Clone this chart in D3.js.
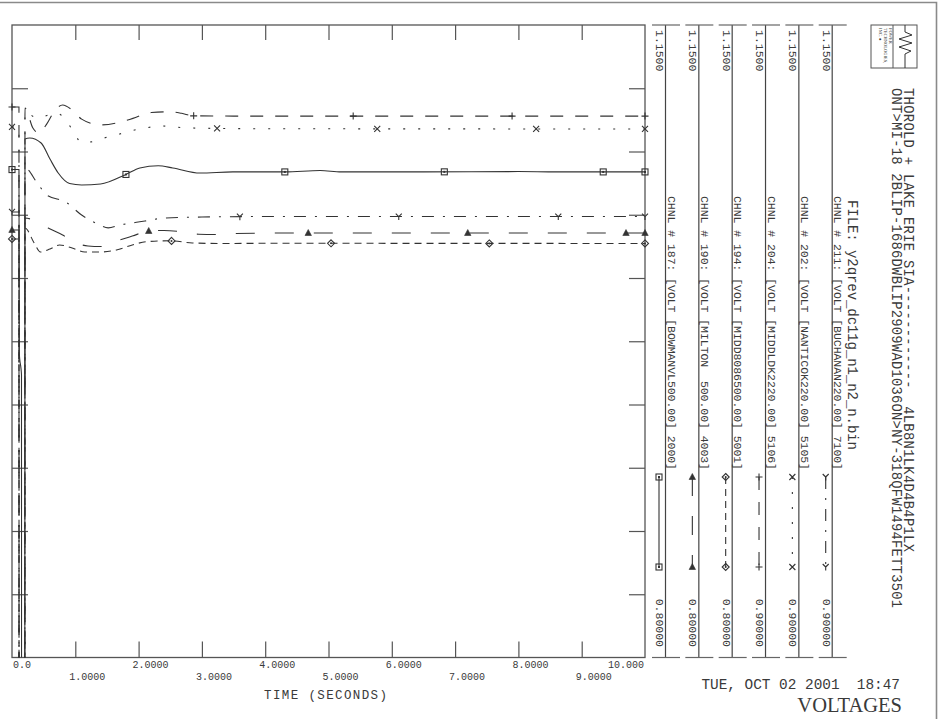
<!DOCTYPE html>
<html><head><meta charset="utf-8">
<script src="https://cdn.jsdelivr.net/npm/d3@7"></script>
<style>
html,body{margin:0;padding:0;background:#fff;}
svg{display:block;}
text{font-family:"Liberation Mono","DejaVu Sans Mono",monospace;fill:#3a3a3a;}
</style></head><body>
<svg id="chart" width="940" height="719"></svg>
<script>
// ---------------- DATA ----------------
const timeTicks  = [0,1,2,3,4,5,6,7,8,9,10];
const timeLabels = ["0.0","1.0000","2.0000","3.0000","4.0000","5.0000","6.0000","7.0000","8.0000","9.0000","10.000"];
const channelIds = [187,190,194,204,202,211];
const channelLabels = [
  "CHNL # 187: [VOLT [BOWMANVL500.00] 2000]",
  "CHNL # 190: [VOLT [MILTON  500.00] 4003]",
  "CHNL # 194: [VOLT [MIDD8086500.00] 5001]",
  "CHNL # 204: [VOLT [MIDDLDK2220.00] 5106]",
  "CHNL # 202: [VOLT [NANTICOK220.00] 5105]",
  "CHNL # 211: [VOLT [BUCHANAN220.00] 7100]"
];
const scaleMax = [1.15,1.15,1.15,1.15,1.15,1.15];
const scaleMin = [0.80,0.80,0.80,0.90,0.90,0.90];
const scaleMaxLabels = ["1.1500","1.1500","1.1500","1.1500","1.1500","1.1500"];
const scaleMinLabels = ["0.80000","0.80000","0.80000","0.90000","0.90000","0.90000"];
const titleLines = [
  "THOROLD + LAKE ERIE SIA------------  4LB8N1LK4D4B4P1LX",
  "ONT>MI-18 2BLIP-1686DWBLIP2909WAD1036ON>NY-318QFW1494FETT3501"
];
const fileLabel = "FILE: y2qrev_dc11g_n1_n2_n.bin";
const dateLabel = "TUE, OCT 02 2001  18:47";
const plotTitle = "VOLTAGES";
const xTitle = "TIME (SECONDS)";

// channel 187 BOWMANVL (solid, square)
const t187 = [0,0.11,0.115,0.15,0.152,0.2,0.205,0.28,0.46,0.6,0.73,0.91,1.1,1.4,1.8,2.02,2.31,2.54,2.97,3.49,4.31,4.87,5.2,6.5,8.0,8.6,10];
const v187 = [1.0700,1.0700,0.9685,0.9563,0.5,0.5,1.0869,1.0875,1.0847,1.0758,1.0681,1.0623,1.0615,1.0620,1.0673,1.0709,1.0721,1.0709,1.0681,1.0687,1.0687,1.0695,1.0687,1.0687,1.0689,1.0687,1.0687];
// channel 190 MILTON (long dash, triangle)
const t190 = [0,0.11,0.112,0.2,0.205,0.4,0.57,0.8,0.95,1.2,1.4,1.7,1.9,2.16,2.4,2.65,2.95,3.2,3.5,4.5,10];
const v190 = [1.0366,1.0366,0.5,0.5,1.0432,1.0410,1.0377,1.0338,1.0305,1.0277,1.0274,1.0310,1.0332,1.0360,1.0363,1.0357,1.0342,1.0341,1.0346,1.0349,1.0349];
// channel 194 MIDD8086 (short dash, diamond)
const t194 = [0,0.11,0.112,0.2,0.205,0.35,0.45,0.6,0.75,0.95,1.15,1.4,1.65,1.9,2.15,2.5,2.85,3.3,4.0,10];
const v194 = [1.0316,1.0316,0.5,0.5,1.0377,1.0294,1.0244,1.0260,1.0283,1.0266,1.0244,1.0244,1.0255,1.0283,1.0302,1.0306,1.0294,1.0291,1.0292,1.0291];
// channel 204 MIDDLDK2 (dash, plus)
const t204 = [0,0.11,0.112,0.2,0.205,0.33,0.42,0.55,0.66,0.8,0.95,1.1,1.4,1.74,1.91,2.2,2.5,2.68,2.86,3.5,10];
const v204 = [1.1176,1.1176,0.5,0.5,1.1172,1.1093,1.1073,1.1109,1.1156,1.1184,1.1164,1.1128,1.1105,1.1118,1.1131,1.1154,1.1157,1.1151,1.1141,1.1140,1.1140];
// channel 202 NANTICOK (dotted, cross)
const t202 = [0,0.11,0.112,0.2,0.205,0.4,0.7,0.85,1.0,1.1,1.25,1.45,1.7,1.9,2.15,2.35,2.6,3.0,4.0,10];
const v202 = [1.1097,1.1097,0.5,0.5,1.1156,1.1132,1.1152,1.1125,1.1065,1.1034,1.1038,1.1053,1.1069,1.1083,1.1095,1.1101,1.1096,1.1092,1.1090,1.1089];
// channel 211 BUCHANAN (dash-dot, Y)
const t211 = [0,0.11,0.112,0.2,0.205,0.4,0.55,0.85,1.1,1.35,1.52,1.7,2.1,2.4,3.0,4.0,10];
const v211 = [1.0761,1.0761,0.5,0.5,1.0935,1.0875,1.0828,1.0800,1.0749,1.0714,1.0698,1.0709,1.0725,1.0737,1.0741,1.0743,1.0743];

// marker times along each curve
const m187 = [0,1.80,4.31,6.83,9.34,10];
const m190 = [0,2.16,4.68,7.20,9.70,10];
const m194 = [0,2.52,5.04,7.54,10];
const m204 = [0,2.87,5.39,7.90,10];
const m202 = [0,3.24,5.77,8.28,10];
const m211 = [0,3.60,6.11,8.63,10];

const seriesT = [t187,t190,t194,t204,t202,t211];
const seriesV = [v187,v190,v194,v204,v202,v211];
const markT   = [m187,m190,m194,m204,m202,m211];

// ---------------- STYLE ----------------
const dashStyles = ["none","19,20","7,5","13,12","2,13","12,9,2,9"];
const markerTypes = ["square","triangle","diamond","plus","cross","ylike"];
const INK = "#333";

// ---------------- DRAW ----------------
const svg = d3.select("#chart");
const L=12, R=645, T=25, B=657.5;
const x = d3.scaleLinear().domain([0,10]).range([L,R]);
const frameY = d3.scaleLinear().domain([0,10]).range([B,T]);
const strip = d3.scalePoint().domain(channelIds).range([665.5,832.2]);
const yScales = channelIds.map((c,i)=>d3.scaleLinear().domain([scaleMin[i],scaleMax[i]]).range([B,T]));

// outer border (top and right)
svg.append("path").attr("d","M0,2.5H936.5V719").attr("fill","none").attr("stroke","#8a8a8a").attr("stroke-width",1.6);

// plot frame
svg.append("rect").attr("x",L).attr("y",T).attr("width",R-L).attr("height",B-T)
  .attr("fill","none").attr("stroke","#555").attr("stroke-width",1.3);

function styleAxis(g){
  g.select(".domain").remove();
  g.selectAll(".tick line").attr("stroke","#555").attr("stroke-width",1.2);
  g.selectAll(".tick text").remove();
}
const innerTicks = timeTicks.slice(1,-1);
svg.append("g").attr("transform",`translate(0,${T})`)
  .call(d3.axisBottom(x).tickValues(innerTicks).tickSize(15).tickFormat("")).call(styleAxis);
svg.append("g").attr("transform",`translate(0,${B})`)
  .call(d3.axisTop(x).tickValues(innerTicks).tickSize(16).tickFormat("")).call(styleAxis);
svg.append("g").attr("transform",`translate(${L},0)`)
  .call(d3.axisRight(frameY).tickValues(d3.range(1,10)).tickSize(16).tickFormat("")).call(styleAxis);
svg.append("g").attr("transform",`translate(${R},0)`)
  .call(d3.axisLeft(frameY).tickValues(d3.range(1,10)).tickSize(16).tickFormat("")).call(styleAxis);

// time labels (two staggered rows)
timeTicks.forEach((t,i)=>{
  let tx = x(t)-6, anchor="start";
  if(i===0){tx=x(t)+1;}
  if(i===timeTicks.length-1){tx=x(t)-1; anchor="end";}
  svg.append("text").attr("x",tx).attr("y", i%2===0?668:680)
    .attr("text-anchor",anchor).attr("font-size",10).text(timeLabels[i]);
});
svg.append("text").attr("x",325.5).attr("y",698.5).attr("text-anchor","middle")
  .attr("font-size",12.5).attr("textLength",123).attr("lengthAdjust","spacing").text(xTitle);

// clip
svg.append("clipPath").attr("id","plotclip").append("rect")
  .attr("x",L).attr("y",T).attr("width",R-L).attr("height",B-T);

function marker(g,type,cx,cy){
  const m = g.append("g").attr("transform",`translate(${cx},${cy})`);
  const st = s=>s.attr("stroke",INK).attr("stroke-width",1.1).attr("fill","none");
  if(type==="square"){
    st(m.append("rect").attr("x",-3).attr("y",-3).attr("width",6).attr("height",6));
    m.append("rect").attr("x",-1).attr("y",-1).attr("width",2).attr("height",2).attr("fill",INK);
  } else if(type==="triangle"){
    m.append("path").attr("d","M0,-3.5L3.2,2.5L-3.2,2.5Z").attr("fill",INK).attr("stroke",INK).attr("stroke-width",0.6);
  } else if(type==="diamond"){
    st(m.append("path").attr("d","M0,-3.5L3.5,0L0,3.5L-3.5,0Z"));
    m.append("circle").attr("r",1).attr("fill",INK);
  } else if(type==="plus"){
    st(m.append("path").attr("d","M-3.5,0H3.5M0,-3.5V3.5"));
  } else if(type==="cross"){
    st(m.append("path").attr("d","M-3,-3L3,3M3,-3L-3,3"));
  } else {
    st(m.append("path").attr("d","M0,0L-3,-3M0,0L3,-3M0,0V3.5"));
  }
}

const plot = svg.append("g").attr("clip-path","url(#plotclip)");
const markG = svg.append("g");
channelIds.forEach((c,i)=>{
  const ys = yScales[i];
  const pts = seriesT[i].map((t,k)=>[t,seriesV[i][k]]);
  const line = d3.line().x(d=>x(d[0])).y(d=>ys(d[1])).curve(d3.curveMonotoneX);
  plot.append("path").attr("d",line(pts)).attr("fill","none")
    .attr("stroke",INK).attr("stroke-width",1.1)
    .attr("stroke-dasharray",dashStyles[i]);
  const interp = d3.scaleLinear().domain(seriesT[i]).range(seriesV[i]);
  markT[i].forEach(t=>marker(markG,markerTypes[i],x(t),ys(interp(t))));
});

// legend strips
channelIds.forEach((c,i)=>{
  const sx = strip(c);
  const g = svg.append("g");
  g.append("line").attr("x1",sx).attr("x2",sx).attr("y1",T).attr("y2",B).attr("stroke","#444").attr("stroke-width",1.2);
  g.append("line").attr("x1",sx-13.5).attr("x2",sx+14.5).attr("y1",T).attr("y2",T).attr("stroke","#666").attr("stroke-width",1.2);
  g.append("line").attr("x1",sx-13.5).attr("x2",sx+14.5).attr("y1",B).attr("y2",B).attr("stroke","#666").attr("stroke-width",1.2);
  g.append("text").attr("transform",`translate(${sx-9.5},30) rotate(90)`).attr("font-size",11.5).text(scaleMaxLabels[i]);
  g.append("text").attr("transform",`translate(${sx-9.5},647) rotate(90)`).attr("text-anchor","end").attr("font-size",11.5).text(scaleMinLabels[i]);
  g.append("text").attr("transform",`translate(${sx+2},196) rotate(90)`).attr("font-size",11.5)
    .attr("xml:space","preserve").attr("textLength",274).attr("lengthAdjust","spacing").text(channelLabels[i]);
  const lx = sx-6.5;
  g.append("line").attr("x1",lx).attr("x2",lx).attr("y1",477).attr("y2",567)
    .attr("stroke",INK).attr("stroke-width",1.1).attr("stroke-dasharray",dashStyles[i]);
  marker(g,markerTypes[i],lx,477);
  marker(g,markerTypes[i],lx,567);
});

// titles
svg.append("text").attr("transform","translate(848,200) rotate(90)").attr("font-size",14)
  .attr("textLength",250).attr("lengthAdjust","spacing").text(fileLabel);
svg.append("text").attr("transform","translate(903.5,88) rotate(90)").attr("font-size",13.8).attr("xml:space","preserve")
  .attr("textLength",464).attr("lengthAdjust","spacing").text(titleLines[0]);
svg.append("text").attr("transform","translate(891.5,88) rotate(90)").attr("font-size",13.8)
  .attr("textLength",520).attr("lengthAdjust","spacing").text(titleLines[1]);
svg.append("text").attr("x",900).attr("y",689).attr("text-anchor","end").attr("font-size",14.4).attr("xml:space","preserve")
  .text(dateLabel);
svg.append("text").attr("x",902).attr("y",712).attr("text-anchor","end")
  .style("font-family","'Liberation Serif','DejaVu Serif',serif").attr("font-size",20.5).text(plotTitle);

// logo box
const logo = svg.append("g");
logo.append("rect").attr("x",871).attr("y",25).attr("width",46).attr("height",43).attr("fill","none").attr("stroke","#555").attr("stroke-width",1);
logo.append("line").attr("x1",893).attr("x2",893).attr("y1",25).attr("y2",68).attr("stroke","#555").attr("stroke-width",1);
logo.append("path").attr("d","M905,25V32L912,35L899,39L912,43L899,47L911,51L905,54V68")
  .attr("fill","none").attr("stroke","#333").attr("stroke-width",1);
["POWER","TECHNOLOGIES,","INC. \u25CF"].forEach((s,k)=>{
  logo.append("text").attr("transform",`translate(${889-k*5},28) rotate(90)`).attr("font-size",4.5)
    .style("font-family","'Liberation Serif',serif").text(s);
});
</script>
</body></html>
